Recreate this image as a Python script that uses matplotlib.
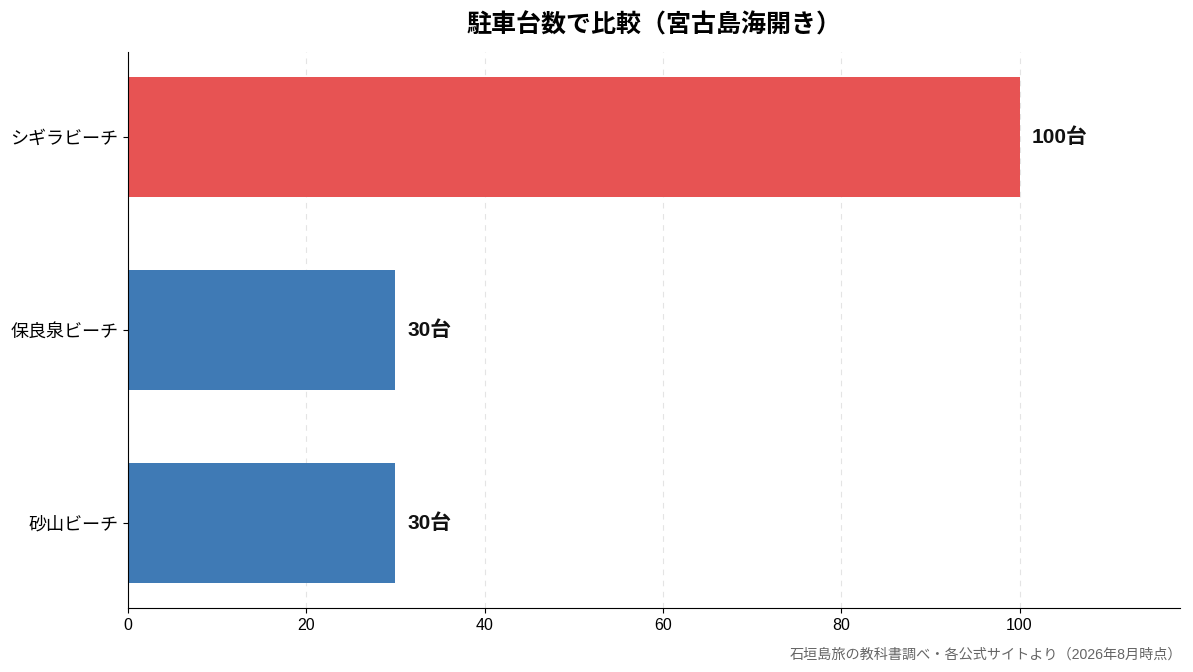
import matplotlib
matplotlib.use("Agg")
import matplotlib.pyplot as plt

plt.rcParams['font.family'] = ['Liberation Sans', 'Noto Sans CJK JP', 'DejaVu Sans']

# data (top to bottom)
beaches = ['シギラビーチ', '保良泉ビーチ', '砂山ビーチ']
spaces = [100, 30, 30]
colors = ['#E75353', '#3F7AB5', '#3F7AB5']
title = '駐車台数で比較（宮古島海開き）'
source = '石垣島旅の教科書調べ・各公式サイトより（2026年8月時点）'

fig = plt.figure(figsize=(11.93, 6.72), dpi=100)
ax = fig.add_axes([128 / 1193, 1 - 608 / 672, (1180 - 128) / 1193, (608 - 52) / 672])

ypos = list(range(len(beaches)))[::-1]
ax.barh(ypos, spaces, height=0.62, color=colors, zorder=2)

for y, v in zip(ypos, spaces):
    ax.text(v + 1.4, y, f'{v}台', va='center', ha='left',
            fontsize=15, fontweight='bold', color='#111111')

ax.set_yticks(ypos)
ax.set_yticklabels(beaches, fontsize=13)
ax.set_xlim(0, 118)
ax.set_xticks([0, 20, 40, 60, 80, 100])
ax.tick_params(axis='x', labelsize=11.5)
ax.grid(axis='x', linestyle=(0, (5, 5)), color='#e4e4e4', linewidth=0.8, zorder=0)
ax.spines['top'].set_visible(False)
ax.spines['right'].set_visible(False)

ax.set_title(title, fontsize=18, fontweight='bold', pad=14)
fig.text(1182 / 1193, 1 - 655 / 672, source, ha='right', va='center',
         fontsize=10.2, color='#666666')

fig.savefig('out.png', dpi=100, facecolor='white')
